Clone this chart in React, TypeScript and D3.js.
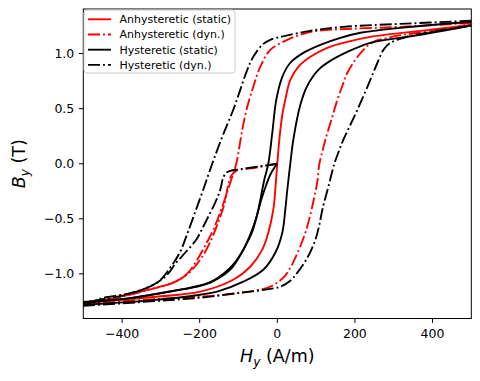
import React from "react";
import * as d3 from "d3";

type Pt = [number, number];

// H (A/m), B (T)
const anhStatic: Pt[] = [
  [-500, -1.262], [-327.7, -1.212], [-198.7, -1.161], [-113.5, -1.053], [-69.7, -0.935],
  [-38.7, -0.78], [-23.2, -0.626], [-10.3, -0.417], [-5.2, -0.236], [0, 0], [5.2, 0.218],
  [12.9, 0.445], [20.6, 0.581], [33.5, 0.762], [54.2, 0.88], [85.2, 0.971], [129, 1.053],
  [180.6, 1.107], [240, 1.152], [369, 1.207], [500, 1.261],
];

const anhDynInit: Pt[] = [
  [0, 0], [-56.8, -0.036], [-105.8, -0.064], [-118.7, -0.109], [-126.5, -0.191],
  [-136.8, -0.372], [-154.8, -0.554], [-170.3, -0.69], [-193.5, -0.844], [-224.5, -0.98],
  [-263.2, -1.071], [-335.5, -1.145], [-423.2, -1.22], [-500, -1.26],
];
const anhDynUp: Pt[] = [
  [-500, -1.275], [-327.7, -1.232], [-198.7, -1.207], [-113.5, -1.18], [-56.8, -1.152],
  [-18.1, -1.116], [15.5, -1.034], [33.5, -0.944], [46.5, -0.853], [69.7, -0.653],
  [85.2, -0.463], [95.5, -0.299], [103.2, -0.163], [108.4, 0], [116.1, 0.109],
  [123.9, 0.218], [139.4, 0.399], [154.8, 0.581], [167.7, 0.708], [180.6, 0.826],
  [201.3, 0.944], [221.9, 1.034], [247.7, 1.107], [283.9, 1.143], [325.2, 1.171],
  [420.6, 1.216], [500, 1.27],
];
const anhDynDown: Pt[] = [
  [500, 1.279], [317.4, 1.243], [188.4, 1.225], [103.2, 1.207], [59.4, 1.171],
  [25.8, 1.125], [-18.1, 1.034], [-43.9, 0.88], [-61.9, 0.699], [-77.4, 0.517],
  [-90.3, 0.309], [-105.8, 0], [-118.7, -0.145], [-141.9, -0.39], [-162.6, -0.581],
  [-180.6, -0.708], [-206.4, -0.871], [-232.3, -0.998], [-268.4, -1.08], [-335.5, -1.148],
  [-423.2, -1.222], [-500, -1.255],
];

const hystStaticInit: Pt[] = [
  [0, 0], [-7.7, -0.036], [-18.1, -0.1], [-28.4, -0.191], [-41.3, -0.327], [-54.2, -0.49],
  [-69.7, -0.644], [-90.3, -0.799], [-121.3, -0.944], [-172.9, -1.075], [-294.2, -1.17],
  [-379.4, -1.22], [-500, -1.265],
];
const hystStaticUp: Pt[] = [
  [-500, -1.28], [-327.7, -1.24], [-198.7, -1.189], [-154.8, -1.161], [-87.7, -1.071],
  [-36.1, -0.962], [-5.2, -0.808], [12.9, -0.626], [20.6, -0.417], [25.8, -0.236],
  [33.5, 0], [41.3, 0.218], [59.4, 0.535], [77.4, 0.708], [105.8, 0.853], [136.8, 0.935],
  [180.6, 1.016], [240, 1.098], [369, 1.171], [500, 1.255],
];
const hystStaticDown: Pt[] = [
  [500, 1.289], [317.4, 1.234], [214.2, 1.189], [162.6, 1.143], [111, 1.08], [67.1, 1.007],
  [33.5, 0.917], [12.9, 0.789], [-2.6, 0.581], [-12.9, 0.281], [-23.2, 0], [-33.5, -0.145],
  [-49, -0.417], [-64.5, -0.617], [-87.7, -0.78], [-121.3, -0.962], [-172.9, -1.08],
  [-206.4, -1.116], [-294.2, -1.171], [-379.4, -1.22], [-500, -1.255],
];

const hystDynInit: Pt[] = [
  [0, 0], [-43.9, -0.023], [-95.5, -0.05], [-121.3, -0.064], [-131.6, -0.082],
  [-139.4, -0.127], [-147.1, -0.236], [-160, -0.354], [-178.1, -0.481], [-193.5, -0.59],
  [-209, -0.69], [-237.4, -0.808], [-260.6, -0.898], [-283.9, -1.007], [-314.8, -1.089],
  [-379.4, -1.18], [-456.8, -1.235], [-500, -1.275],
];
const hystDynUp: Pt[] = [
  [-500, -1.29], [-327.7, -1.25], [-198.7, -1.216], [-95.5, -1.171], [-31, -1.143],
  [7.7, -1.116], [33.5, -1.062], [51.6, -0.989], [77.4, -0.853], [98.1, -0.69],
  [108.4, -0.554], [116.1, -0.417], [131.6, -0.209], [147.1, 0], [160, 0.127],
  [170.3, 0.218], [188.4, 0.354], [206.4, 0.49], [232.3, 0.699], [245.2, 0.808],
  [258.1, 0.917], [273.5, 1.034], [291.6, 1.098], [325.2, 1.143], [394.8, 1.198],
  [500, 1.252],
];
const hystDynDown: Pt[] = [
  [500, 1.298], [317.4, 1.27], [170.3, 1.243], [85.2, 1.207], [20.6, 1.161], [-18.1, 1.125],
  [-38.7, 1.08], [-61.9, 0.971], [-77.4, 0.853], [-95.5, 0.671], [-113.5, 0.49],
  [-141.9, 0.245], [-167.7, 0], [-191, -0.236], [-214.2, -0.463], [-234.8, -0.662],
  [-250.3, -0.799], [-276.1, -0.944], [-309.7, -1.08], [-379.4, -1.175], [-456.8, -1.225],
  [-500, -1.3],
];

const xTicks = [-400, -200, 0, 200, 400];
const yTicks = [-1.0, -0.5, 0.0, 0.5, 1.0];
const legendLabels = [
  "Anhysteretic (static)",
  "Anhysteretic (dyn.)",
  "Hysteretic (static)",
  "Hysteretic (dyn.)",
];
const legendColors = ["red", "red", "black", "black"];
const legendDashed = [false, true, false, true];

const W = 480;
const H = 381;
const LEFT = 83.3;
const RIGHT = 471.3;
const TOP = 9;
const BOTTOM = 318.5;
const LW = 1.875;
const DASH = "12,3,1.9,3";
const FONT = "DejaVu Sans, sans-serif";

const fmt = (v: number, dec: number) => {
  const s = Math.abs(v).toFixed(dec);
  return (v < 0 ? "\u2212" : "") + s;
};

export default function App() {
  const x = d3.scaleLinear().domain([-500, 500]).range([LEFT, RIGHT]);
  const y = d3.scaleLinear().domain([-1.405, 1.405]).range([BOTTOM, TOP]);
  const line = d3
    .line<Pt>()
    .x((d) => x(d[0]))
    .y((d) => y(d[1]))
    .curve(d3.curveCatmullRom.alpha(0.5));

  const series: { data: Pt[]; color: string; dashed: boolean }[] = [
    { data: anhStatic, color: "red", dashed: false },
    { data: anhDynInit, color: "red", dashed: true },
    { data: anhDynDown, color: "red", dashed: true },
    { data: anhDynUp, color: "red", dashed: true },
    { data: hystStaticInit, color: "black", dashed: false },
    { data: hystStaticUp, color: "black", dashed: false },
    { data: hystStaticDown, color: "black", dashed: false },
    { data: hystDynInit, color: "black", dashed: true },
    { data: hystDynUp, color: "black", dashed: true },
    { data: hystDynDown, color: "black", dashed: true },
  ];

  const legX = 84;
  const legY = 10;
  const legW = 151;
  const legH = 63;
  const rowY = (i: number) => 19.3 + i * 15.2;

  return (
    <svg
      width={W}
      height={H}
      style={{ position: "absolute", left: 0, top: 0, background: "white" }}
      fontFamily={FONT}
    >
      <defs>
        <clipPath id="plotclip">
          <rect x={LEFT} y={TOP} width={RIGHT - LEFT} height={BOTTOM - TOP} />
        </clipPath>
      </defs>
      <rect x={0} y={0} width={W} height={H} fill="white" />
      <g clipPath="url(#plotclip)">
        {series.map((s, i) => (
          <path
            key={i}
            d={line(s.data) || ""}
            fill="none"
            stroke={s.color}
            strokeWidth={LW}
            strokeDasharray={s.dashed ? DASH : undefined}
            strokeLinejoin="round"
          />
        ))}
      </g>
      <rect
        x={LEFT}
        y={TOP}
        width={RIGHT - LEFT}
        height={BOTTOM - TOP}
        fill="none"
        stroke="black"
        strokeWidth={1}
      />
      {xTicks.map((t) => (
        <g key={"x" + t}>
          <line x1={x(t)} x2={x(t)} y1={BOTTOM} y2={BOTTOM + 4.4} stroke="black" strokeWidth={1} />
          <text x={x(t)} y={BOTTOM + 19.5} textAnchor="middle" fontSize={12.5} fill="black">
            {fmt(t, 0)}
          </text>
        </g>
      ))}
      {yTicks.map((t) => (
        <g key={"y" + t}>
          <line x1={LEFT - 4.4} x2={LEFT} y1={y(t)} y2={y(t)} stroke="black" strokeWidth={1} />
          <text x={LEFT - 9} y={y(t)} dy="0.36em" textAnchor="end" fontSize={12.5} fill="black">
            {fmt(t, 1)}
          </text>
        </g>
      ))}
      <text x={(LEFT + RIGHT) / 2} y={362} textAnchor="middle" fontSize={17.5} fill="black">
        <tspan fontStyle="italic">H</tspan>
        <tspan fontStyle="italic" fontSize={12.2} dy={3.5}>y</tspan>
        <tspan dy={-3.5}> (A/m)</tspan>
      </text>
      <text
        transform={`translate(25,${(TOP + BOTTOM) / 2}) rotate(-90)`}
        textAnchor="middle"
        fontSize={17.5}
        fill="black"
      >
        <tspan fontStyle="italic">B</tspan>
        <tspan fontStyle="italic" fontSize={12.2} dy={3.5}>y</tspan>
        <tspan dy={-3.5}> (T)</tspan>
      </text>
      <g>
        <rect
          x={legX}
          y={legY}
          width={legW}
          height={legH}
          rx={3}
          fill="white"
          fillOpacity={0.8}
          stroke="#cccccc"
          strokeWidth={1}
        />
        {legendLabels.map((lab, i) => (
          <g key={lab}>
            <line
              x1={88}
              x2={111}
              y1={rowY(i)}
              y2={rowY(i)}
              stroke={legendColors[i]}
              strokeWidth={LW}
              strokeDasharray={legendDashed[i] ? DASH : undefined}
            />
            <text x={119.5} y={rowY(i)} dy="0.36em" fontSize={11} fill="black">
              {lab}
            </text>
          </g>
        ))}
      </g>
    </svg>
  );
}
